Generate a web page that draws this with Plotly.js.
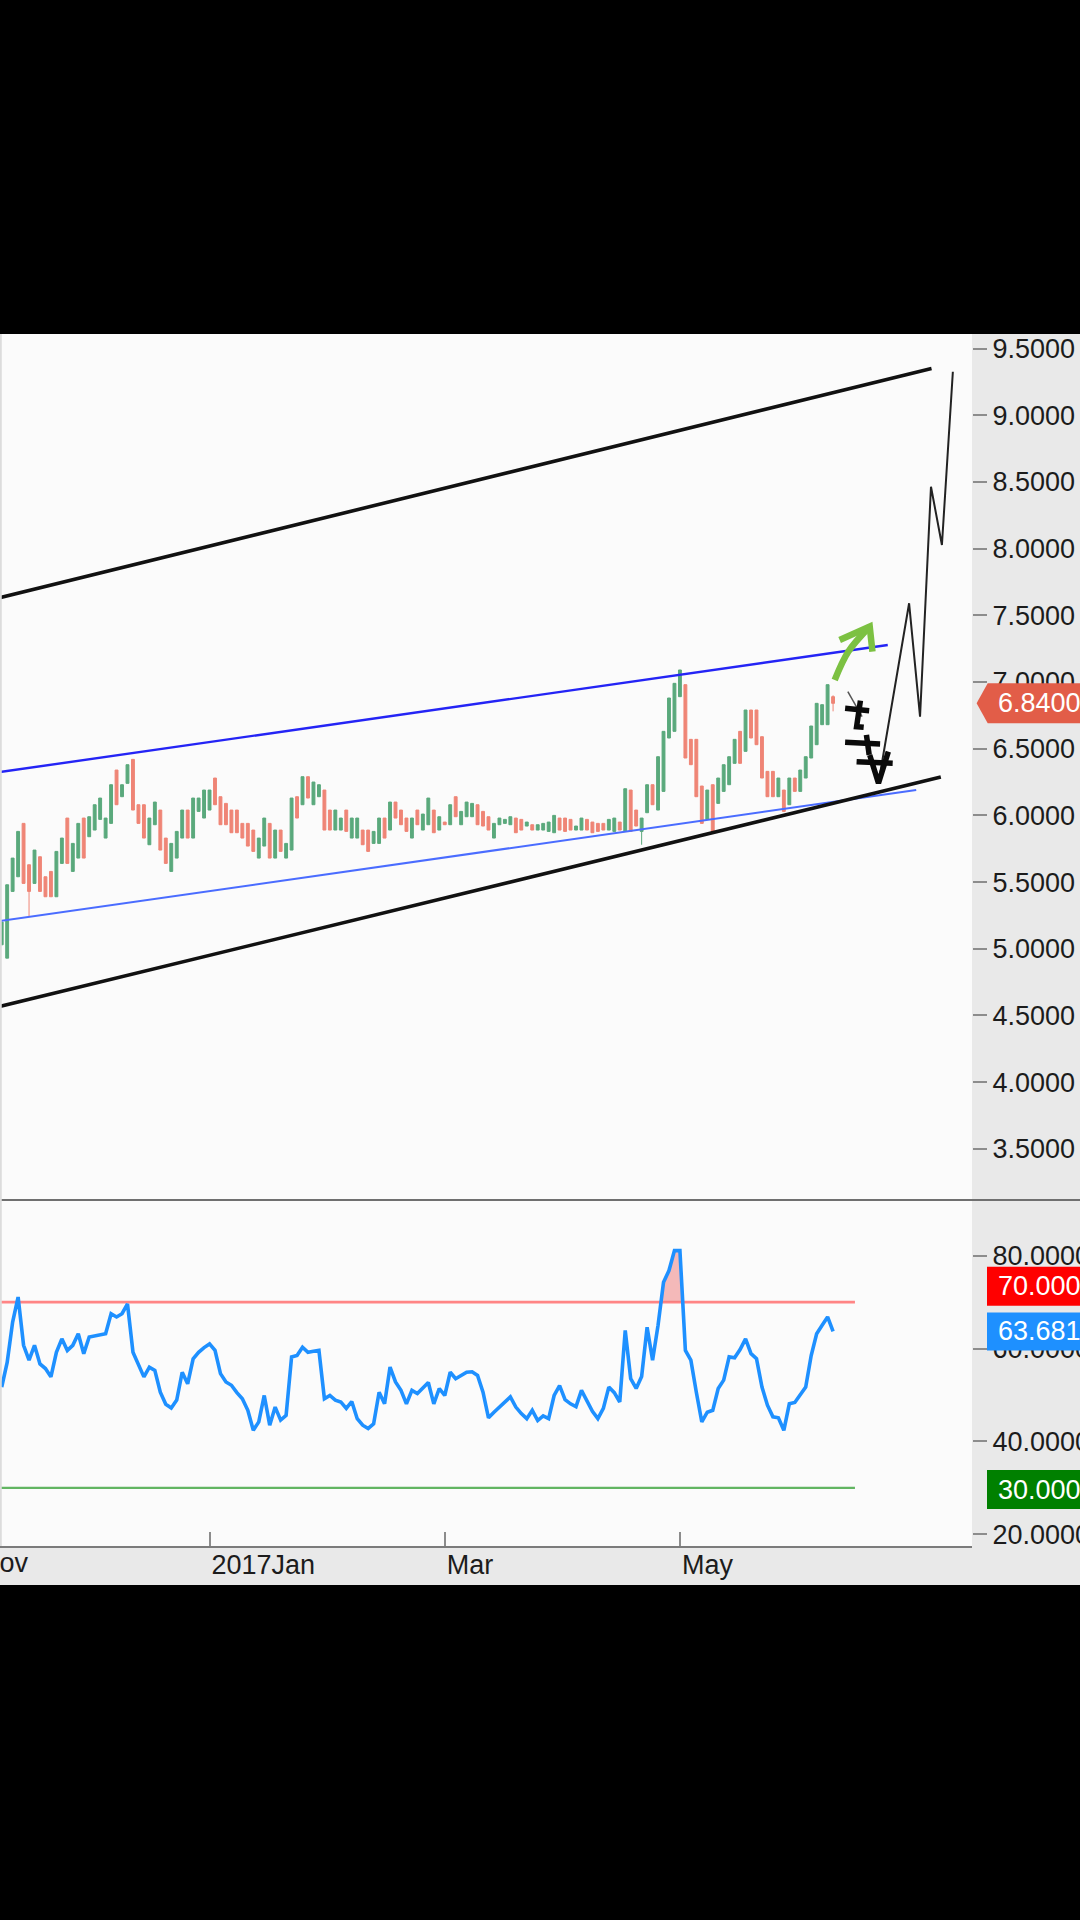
<!DOCTYPE html>
<html>
<head>
<meta charset="utf-8">
<script src="https://cdn.plot.ly/plotly-3.0.1.min.js"></script>
<style>
html,body{margin:0;padding:0;background:#000;}
#chart{width:1080px;height:1920px;}
</style>
</head>
<body>
<div id="chart"></div>
<script>
// ---------------- data ----------------
const openP = [
 5.03,4.93,5.43,5.54,5.94,5.63,5.49,5.69,5.54,5.58,
 5.39,5.64,5.98,5.58,5.68,5.98,5.84,5.89,5.97,5.83,
 5.94,6.34,6.14,6.24,6.42,6.08,6.08,5.78,5.93,6.04,
 5.83,5.58,5.68,5.83,6.04,5.83,6.03,5.98,6.04,6.28,
 6.14,6.09,6.04,6.04,5.94,5.94,5.89,5.68,5.77,5.94,
 5.68,5.89,5.68,5.74,6.14,6.08,6.29,6.08,6.14,6.19,
 6.04,5.89,5.89,6.04,5.83,5.83,5.89,5.89,5.79,5.79,
 5.98,5.89,6.10,6.04,5.98,5.83,6.04,5.89,5.93,6.04,
 5.89,5.95,5.93,6.14,5.93,5.99,5.99,6.08,6.03,5.99,
 5.83,5.93,5.94,5.93,5.98,5.97,5.92,5.93,5.89,5.89,
 5.88,5.87,5.98,5.98,5.97,5.89,5.89,5.97,5.95,5.94,
 5.94,5.89,5.88,5.95,5.88,6.19,6.04,5.88,6.02,6.23,
 6.04,6.18,6.58,6.63,6.89,6.98,6.57,6.57,6.22,5.97,
 6.23,6.09,6.18,6.23,6.39,6.63,6.48,6.79,6.79,6.59,
 6.33,6.33,6.14,6.19,6.08,6.28,6.18,6.28,6.43,6.53,
 6.68,6.68,6.89];
const highP = [
 5.20,5.48,5.68,5.88,5.94,5.63,5.74,5.69,5.54,5.58,
 5.73,5.83,5.98,5.79,5.94,5.98,5.99,6.08,6.13,5.98,
 6.23,6.34,6.23,6.38,6.42,6.08,6.08,5.98,6.10,6.04,
 5.83,5.79,5.88,6.04,6.04,6.13,6.13,6.19,6.19,6.28,
 6.14,6.09,6.04,6.04,5.94,5.94,5.89,5.83,5.98,5.94,
 5.89,5.89,5.79,6.13,6.14,6.29,6.29,6.25,6.23,6.19,
 6.04,6.04,5.98,6.04,5.98,5.98,5.89,5.89,5.88,5.98,
 5.98,6.10,6.10,6.04,5.98,5.98,6.04,6.01,6.13,6.04,
 5.99,5.95,6.08,6.14,6.03,6.10,6.09,6.08,6.03,5.99,
 5.94,5.98,5.97,5.99,5.98,5.97,5.95,5.93,5.93,5.94,
 5.95,6.00,5.98,5.98,5.97,5.92,5.98,5.97,5.95,5.94,
 5.94,5.97,5.98,5.95,6.20,6.19,6.04,5.98,6.23,6.23,
 6.44,6.63,6.88,6.99,7.09,6.98,6.57,6.57,6.22,6.19,
 6.23,6.28,6.38,6.44,6.57,6.63,6.79,6.79,6.79,6.59,
 6.33,6.33,6.28,6.19,6.28,6.28,6.34,6.44,6.67,6.84,
 6.83,6.98,6.90];
const lowP = [
 5.03,4.93,5.43,5.54,5.49,5.24,5.49,5.43,5.39,5.39,
 5.39,5.64,5.64,5.58,5.68,5.68,5.84,5.89,5.97,5.83,
 5.94,6.08,6.14,6.24,6.04,5.94,5.83,5.78,5.93,5.74,
 5.64,5.58,5.68,5.83,5.83,5.83,6.03,5.98,6.04,6.08,
 5.93,5.93,5.87,5.87,5.83,5.77,5.73,5.68,5.77,5.68,
 5.68,5.73,5.68,5.74,5.98,6.08,6.13,6.08,6.14,5.89,
 5.89,5.89,5.89,5.88,5.83,5.83,5.78,5.73,5.79,5.79,
 5.83,5.89,5.98,5.93,5.88,5.83,5.93,5.89,5.93,5.87,
 5.89,5.93,5.93,5.99,5.93,5.99,5.99,5.93,5.92,5.89,
 5.83,5.93,5.94,5.93,5.87,5.89,5.92,5.89,5.89,5.89,
 5.88,5.87,5.89,5.88,5.89,5.89,5.89,5.89,5.87,5.88,
 5.89,5.89,5.88,5.89,5.88,5.88,5.92,5.78,6.02,6.08,
 6.04,6.18,6.58,6.63,6.89,6.43,6.38,6.14,5.94,5.97,
 5.88,6.09,6.18,6.23,6.39,6.39,6.48,6.58,6.53,6.28,
 6.14,6.14,6.14,6.03,6.08,6.18,6.18,6.28,6.43,6.53,
 6.68,6.68,6.78];
const closeP = [
 5.20,5.48,5.68,5.88,5.49,5.43,5.74,5.43,5.39,5.39,
 5.73,5.83,5.64,5.79,5.94,5.68,5.99,6.08,6.13,5.98,
 6.23,6.08,6.23,6.38,6.04,5.94,5.83,5.98,6.10,5.74,
 5.64,5.79,5.88,6.04,5.83,6.13,6.13,6.19,6.19,6.08,
 5.93,5.93,5.87,5.87,5.83,5.77,5.73,5.83,5.98,5.68,
 5.89,5.73,5.79,6.13,5.98,6.29,6.13,6.25,6.23,5.89,
 5.89,6.04,5.98,5.88,5.98,5.98,5.78,5.73,5.88,5.98,
 5.83,6.10,5.98,5.93,5.88,5.98,5.93,6.01,6.13,5.87,
 5.99,5.93,6.08,5.99,6.03,6.10,6.09,5.93,5.92,5.89,
 5.94,5.98,5.97,5.99,5.87,5.89,5.95,5.89,5.93,5.94,
 5.95,6.00,5.89,5.88,5.89,5.92,5.98,5.89,5.87,5.88,
 5.89,5.97,5.98,5.89,6.20,5.88,5.92,5.98,6.23,6.08,
 6.44,6.63,6.88,6.99,7.09,6.43,6.38,6.14,5.94,6.19,
 5.88,6.28,6.38,6.44,6.57,6.39,6.79,6.58,6.53,6.28,
 6.14,6.14,6.28,6.03,6.28,6.18,6.34,6.44,6.67,6.84,
 6.83,6.98,6.84];
const rsiVals = [
 51.7,57.0,65.7,71.1,60.7,57.5,60.7,56.7,55.7,53.9,
 59.2,62.1,59.6,60.7,63.2,58.9,62.5,62.8,63.0,63.2,
 67.5,66.8,67.5,69.6,59.2,56.7,53.9,56.0,55.3,50.6,
 48.0,47.2,48.9,54.9,52.4,57.8,59.2,60.2,61.0,59.6,
 54.6,52.8,52.1,50.5,49.2,46.7,42.4,44.2,49.9,43.5,
 47.4,44.6,45.6,58.2,58.5,60.3,59.2,59.4,59.6,49.2,
 49.9,48.9,48.5,47.1,48.6,44.9,43.5,42.8,43.8,50.6,
 48.1,56.0,52.8,51.0,48.1,51.0,50.3,51.5,52.7,48.1,
 51.4,49.9,54.9,53.5,54.2,54.9,55.0,54.2,50.6,45.1,
 46.3,47.4,48.5,49.6,47.4,46.0,44.9,46.7,44.5,45.5,
 44.9,49.9,52.0,49.0,48.1,47.5,51.0,48.9,46.5,44.9,
 47.1,51.7,50.5,48.5,63.9,53.5,51.4,54.0,64.6,57.5,
 65.0,74.3,76.8,81.1,81.1,59.6,57.5,50.6,44.2,46.3,
 46.7,51.4,53.2,58.2,58.0,59.8,62.1,58.9,57.8,51.7,
 47.8,45.3,45.1,42.4,48.1,48.4,49.9,51.7,58.5,63.2,
 65.0,66.8,63.681];

// x-axis ticks (bar index of month start) and labels
const tickIdx  = [-5, 38, 81, 124];
const tickText = ['Nov', '2017Jan', 'Mar', 'May'];

// RSI levels
const rsiHigh = 70;
const rsiLow = 30;
const levelLineX = [-1, 156];

// trend channel lines: [bar index], [price]
const upperBlackX = [-1, 170],   upperBlackY = [7.626, 9.35];
const lowerBlackX = [-1, 171.7], lowerBlackY = [4.561, 6.288];
const upperBlueX  = [-1, 162],   upperBlueY  = [6.321, 7.277];
const lowerBlueX  = [-1, 167.2], lowerBlueY  = [5.204, 6.190];

// hand-drawn projection / annotations (bar index, price)
const zigzagX = [160.3, 165.9, 167.9, 169.9, 171.9, 173.9];
const zigzagY = [6.241, 7.590, 6.740, 8.464, 8.027, 9.326];
const thinTickX = [154.7, 157.3];
const thinTickY = [6.927, 6.740];
const scribbleX = [154.2,158.6,null, 157.0,156.3,157.6,null, 154.2,160.6,null, 158.1,158.6,null, 156.3,162.9,null, 158.7,160.3,162.1];
const scribbleY = [6.803,6.785,null, 6.860,6.665,6.660,null, 6.548,6.535,null, 6.603,6.453,null, 6.403,6.390,null, 6.453,6.241,6.478];
const arrowShaftX = [152.3, 154.8, 158.7];
const arrowShaftY = [7.015, 7.228, 7.415];
const arrowHeadX = [153.2, 158.7, 159.2];
const arrowHeadY = [7.315, 7.415, 7.228];

// ---------------- styles ----------------
const UP = '#5aa97c', DN = '#ef8576';
const FONT = 'Liberation Sans, Arial, sans-serif';
const TXT = '#1c1c1c';
const xRange = [-0.31, 177.4];
const priceDomain = [0.2855, 1];
const rsiDomain = [0, 0.2855];

const barIdx = openP.map((_, i) => i);
const lastIdx = barIdx.length - 1;
const lastClose = closeP[lastIdx];
const lastRsi = rsiVals[lastIdx];

// overbought fill polygon (segments of the RSI line above the high level)
function aboveLevel(xs, ys, level) {
  const px = [], py = [];
  for (let i = 0; i < ys.length; i++) {
    const above = ys[i] > level;
    if (i > 0) {
      const prevAbove = ys[i - 1] > level;
      if (above !== prevAbove) {
        const t = (level - ys[i - 1]) / (ys[i] - ys[i - 1]);
        px.push(xs[i - 1] + t * (xs[i] - xs[i - 1]));
        py.push(level);
        if (!above) { px.push(null); py.push(null); }
      }
    }
    if (above) { px.push(xs[i]); py.push(ys[i]); }
  }
  return { px, py };
}
const ob = aboveLevel(barIdx, rsiVals, rsiHigh);

const line = (x, y, color, width, yaxis, extra) => Object.assign({
  type: 'scatter', mode: 'lines', x: x, y: y, xaxis: 'x', yaxis: yaxis || 'y',
  line: { color: color, width: width }, hoverinfo: 'skip', showlegend: false
}, extra || {});

const traces = [
  {
    type: 'candlestick', x: barIdx, open: openP, high: highP, low: lowP, close: closeP,
    xaxis: 'x', yaxis: 'y',
    increasing: { line: { color: UP, width: 1 }, fillcolor: UP },
    decreasing: { line: { color: DN, width: 1 }, fillcolor: DN },
    whiskerwidth: 0, hoverinfo: 'skip', showlegend: false
  },
  line(upperBlueX, upperBlueY, '#2424f5', 2.4),
  line(lowerBlueX, lowerBlueY, '#4a6cff', 2),
  line(upperBlackX, upperBlackY, '#111111', 3.6),
  line(lowerBlackX, lowerBlackY, '#111111', 3.6),
  line(zigzagX, zigzagY, '#222222', 2),
  line(thinTickX, thinTickY, '#555555', 1.5),
  line(scribbleX, scribbleY, '#0a0a0a', 5.5),
  line(arrowShaftX, arrowShaftY, '#7cc142', 6.5, 'y', { line: { color: '#7cc142', width: 6.5, shape: 'spline' } }),
  line(arrowHeadX, arrowHeadY, '#7cc142', 6.5),
  // RSI panel
  line(levelLineX, [rsiHigh, rsiHigh], '#ff8585', 2.6, 'y2'),
  line(levelLineX, [rsiLow, rsiLow], '#62b562', 2.2, 'y2'),
  line(ob.px, ob.py, 'rgba(0,0,0,0)', 0, 'y2', { fill: 'toself', fillcolor: 'rgba(238,120,120,0.5)' }),
  line(barIdx, rsiVals, '#1e90ff', 3.6, 'y2')
];

const axisFont = { family: FONT, size: 27, color: TXT };
const layout = {
  width: 1080, height: 1920,
  margin: { l: 0, r: 108, t: 334, b: 374, pad: 0 },
  paper_bgcolor: '#e9e9e9',
  plot_bgcolor: '#fbfbfb',
  font: { family: FONT, size: 27, color: TXT },
  showlegend: false,
  boxgap: 0.3, boxgroupgap: 0.25,
  xaxis: {
    domain: [0, 1], range: xRange, anchor: 'y2',
    showgrid: false, zeroline: false,
    showline: true, linecolor: '#7b7b7b', linewidth: 2,
    ticks: 'inside', ticklen: 14, tickwidth: 2, tickcolor: '#8c8c8c',
    tickmode: 'array', tickvals: tickIdx, ticktext: tickText,
    ticklabelposition: 'outside right', ticklabelstandoff: -6,
    tickfont: axisFont,
    rangeslider: { visible: false }, fixedrange: true
  },
  yaxis: {
    domain: priceDomain, range: [3.117, 9.6087], anchor: 'x', side: 'right',
    showgrid: false, zeroline: false, showline: false,
    ticks: 'outside', ticklen: 14, tickwidth: 2, tickcolor: '#8c8c8c',
    tick0: 3.5, dtick: 0.5, tickformat: '.4f', tickfont: axisFont, fixedrange: true
  },
  yaxis2: {
    domain: rsiDomain, range: [17.48, 92.0], anchor: 'x', side: 'right',
    showgrid: false, zeroline: false, showline: false,
    ticks: 'outside', ticklen: 14, tickwidth: 2, tickcolor: '#8c8c8c',
    tickmode: 'array', tickvals: [20, 40, 60, 80], tickformat: '.4f', tickfont: axisFont, fixedrange: true
  },
  shapes: [
    { type: 'rect', xref: 'paper', yref: 'paper', x0: -0.05, x1: 1.2, y0: 1, y1: 1.3, fillcolor: '#000', line: { width: 0 }, layer: 'above' },
    { type: 'rect', xref: 'paper', yref: 'paper', x0: -0.05, x1: 1.2, y0: -0.33, y1: -0.0322, fillcolor: '#000', line: { width: 0 }, layer: 'above' },
    { type: 'line', xref: 'paper', yref: 'paper', x0: 0, x1: 1.12, y0: rsiDomain[1], y1: rsiDomain[1], line: { color: '#6f6f6f', width: 2 }, layer: 'above' },
    { type: 'line', xref: 'paper', yref: 'paper', x0: 0.0008, x1: 0.0008, y0: 0, y1: 1, line: { color: '#dcdcdc', width: 2 }, layer: 'above' },
    // last price tag
    { type: 'path', xref: 'paper', xsizemode: 'pixel', xanchor: 1, yref: 'y', ysizemode: 'pixel', yanchor: lastClose,
      path: 'M4.6,0 L15.7,20 L140,20 L140,-20 L15.7,-20 Z', fillcolor: '#e25d48', line: { width: 0 }, layer: 'above' },
    // RSI tags
    { type: 'rect', xref: 'paper', xsizemode: 'pixel', xanchor: 1, x0: 15, x1: 140, yref: 'y2', ysizemode: 'pixel', yanchor: rsiHigh, y0: -3.6, y1: 35.4, fillcolor: '#ff0000', line: { width: 0 }, layer: 'above' },
    { type: 'rect', xref: 'paper', xsizemode: 'pixel', xanchor: 1, x0: 15, x1: 140, yref: 'y2', ysizemode: 'pixel', yanchor: lastRsi, y0: -19, y1: 19, fillcolor: '#1e90ff', line: { width: 0 }, layer: 'above' },
    { type: 'rect', xref: 'paper', xsizemode: 'pixel', xanchor: 1, x0: 15, x1: 140, yref: 'y2', ysizemode: 'pixel', yanchor: rsiLow, y0: -21.2, y1: 17.8, fillcolor: '#008000', line: { width: 0 }, layer: 'above' }
  ],
  annotations: [
    { xref: 'paper', x: (tickIdx[0] - xRange[0]) / (xRange[1] - xRange[0]), xanchor: 'left', xshift: 4,
      yref: 'paper', y: 0, yanchor: 'middle', yshift: -17, text: tickText[0], showarrow: false, font: axisFont },
    { xref: 'paper', x: 1, xanchor: 'left', xshift: 24, yref: 'y', y: lastClose, yanchor: 'middle',
      text: lastClose.toFixed(4), showarrow: false, font: { family: FONT, size: 27, color: '#ffffff' } },
    { xref: 'paper', x: 1, xanchor: 'left', xshift: 24, yref: 'y2', y: rsiHigh, yanchor: 'middle', yshift: 16,
      text: rsiHigh.toFixed(4), showarrow: false, font: { family: FONT, size: 27, color: '#ffffff' } },
    { xref: 'paper', x: 1, xanchor: 'left', xshift: 24, yref: 'y2', y: lastRsi, yanchor: 'middle',
      text: lastRsi.toFixed(4), showarrow: false, font: { family: FONT, size: 27, color: '#ffffff' } },
    { xref: 'paper', x: 1, xanchor: 'left', xshift: 24, yref: 'y2', y: rsiLow, yanchor: 'middle', yshift: -1.7,
      text: rsiLow.toFixed(4), showarrow: false, font: { family: FONT, size: 27, color: '#ffffff' } }
  ]
};

Plotly.newPlot('chart', traces, layout, { staticPlot: true, displayModeBar: false });
</script>
</body>
</html>
